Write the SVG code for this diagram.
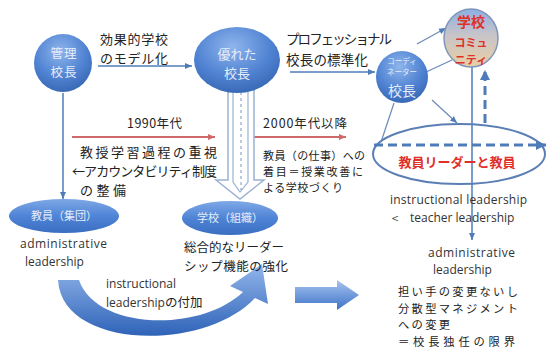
<svg xmlns="http://www.w3.org/2000/svg" width="548" height="350" viewBox="0 0 548 350">
<style>
.jp{font-family:"Noto Sans CJK JP","Noto Sans",sans-serif;fill:#222;}
.en{font-family:"Open Sans","Noto Sans",sans-serif;fill:#333;}
.nt{font-family:"Noto Sans CJK JP",sans-serif;fill:#e6eefa;}
.red{font-family:"Noto Sans CJK JP",sans-serif;fill:#e0302a;font-weight:bold;}
.ln{stroke:#4f7cb8;stroke-width:1.5;fill:none;}
.rl{stroke:#d06a6a;stroke-width:1.8;fill:none;}
.thin{stroke:#6a88b8;stroke-width:1.2;fill:none;}
.dash{stroke:#4f7cb8;stroke-width:3;stroke-dasharray:9 5;fill:none;}
</style>
<defs>
<radialGradient id="sph" cx="0.45" cy="0.3" r="0.75">
<stop offset="0" stop-color="#8fb5ec"/>
<stop offset="0.6" stop-color="#4f82d2"/>
<stop offset="1" stop-color="#3565b0"/>
</radialGradient>
<linearGradient id="ell" x1="0" y1="0" x2="0" y2="1">
<stop offset="0" stop-color="#7fa8e6"/>
<stop offset="0.5" stop-color="#4f84d6"/>
<stop offset="1" stop-color="#3a6ec0"/>
</linearGradient>
<linearGradient id="com" x1="0" y1="0" x2="0" y2="1">
<stop offset="0" stop-color="#8cb0e4"/>
<stop offset="0.45" stop-color="#c8c4c8"/>
<stop offset="1" stop-color="#e8cfa4"/>
</linearGradient>
<linearGradient id="blk" x1="0" y1="0" x2="0" y2="1">
<stop offset="0" stop-color="#a6c4ee"/>
<stop offset="1" stop-color="#3d72c8"/>
</linearGradient>
<linearGradient id="crv" x1="0" y1="0" x2="0" y2="1">
<stop offset="0" stop-color="#92b6ea"/>
<stop offset="1" stop-color="#2f63b8"/>
</linearGradient>
<marker id="ab" markerWidth="8" markerHeight="8" refX="7" refY="4" orient="auto" markerUnits="userSpaceOnUse">
<path d="M0,1 L7,4 L0,7 Z" fill="#4f7cb8"/>
</marker>
<marker id="ar" markerWidth="8" markerHeight="8" refX="7" refY="4" orient="auto" markerUnits="userSpaceOnUse">
<path d="M0,1 L7,4 L0,7 Z" fill="#d06a6a"/>
</marker>
<marker id="ad" markerWidth="12" markerHeight="12" refX="10" refY="6" orient="auto" markerUnits="userSpaceOnUse">
<path d="M0,1 L10,6 L0,11 Z" fill="#4f7cb8"/>
</marker>
</defs>

<g id="connectors">
<line class="ln" x1="98" y1="66" x2="192" y2="66" marker-end="url(#ab)"/>
<line class="ln" x1="290" y1="72" x2="375" y2="72" marker-end="url(#ab)"/>
<line class="ln" x1="63" y1="93" x2="63" y2="199" marker-end="url(#ab)"/>
<line class="rl" x1="72" y1="137" x2="215" y2="137" marker-end="url(#ar)"/>
<line class="rl" x1="253" y1="137" x2="346" y2="137" marker-end="url(#ar)"/>
<line class="thin" x1="417" y1="44" x2="446" y2="28" marker-end="url(#ab)"/>
<line class="thin" x1="426" y1="72" x2="452" y2="60"/>
<line class="thin" x1="432" y1="100" x2="457" y2="123" marker-end="url(#ab)"/>
<line class="thin" x1="394" y1="103" x2="381" y2="142"/>
<line class="ln" x1="472" y1="48" x2="472" y2="240" marker-end="url(#ab)"/>
<line class="dash" x1="485" y1="123" x2="485" y2="70" marker-end="url(#ad)"/>
<path d="M228,90 L228,180 L216,180 L240,199 L264,180 L254,180 L254,90" fill="#fff" stroke="#9bb2d4" stroke-width="1.5"/>
<path d="M233,90 L233,182 L240,192 L248,182 L248,90" fill="none" stroke="#9bb2d4" stroke-width="1.2"/>
<line x1="241" y1="92" x2="241" y2="190" stroke="#7a96c4" stroke-width="1" stroke-dasharray="3 3"/>
<path d="M58,280 C62,350 205,352 255,298 L268,304 L262,264 L230,286 L243,292 C200,333 96,330 79,280 Z" fill="url(#crv)"/>
<polygon points="295,287 337,287 337,280 359,295 337,310 337,303 295,303" fill="url(#blk)"/>
</g>

<g id="node-kanri">
<circle cx="63" cy="63" r="29" fill="url(#sph)"/>
<text class="nt" font-size="12.5" text-anchor="middle" letter-spacing="1"><tspan x="64" y="58">管理</tspan><tspan x="64" y="76.5">校長</tspan></text>
</g>

<g id="node-sugureta">
<ellipse cx="237" cy="60" rx="43" ry="33" fill="url(#sph)"/>
<text class="nt" font-size="13" text-anchor="middle"><tspan x="237" y="59">優れた</tspan><tspan x="237" y="78">校長</tspan></text>
</g>

<g id="node-coord">
<circle cx="402" cy="77" r="26" fill="url(#sph)"/>
<text class="nt" text-anchor="middle"><tspan x="402" y="64" font-size="7.5">コーディ</tspan><tspan x="402" y="75" font-size="7.5">ネーター</tspan><tspan x="402" y="96" font-size="14">校長</tspan></text>
</g>

<g id="node-community">
<ellipse cx="471" cy="38" rx="27" ry="29" fill="url(#com)" stroke="#7f96b8" stroke-width="1.5"/>
<text class="red" text-anchor="middle"><tspan x="471" y="27" font-size="14">学校</tspan><tspan x="471" y="47" font-size="11">コミュ</tspan><tspan x="471" y="63.5" font-size="11">ニティ</tspan></text>
</g>

<g id="node-kyoin-shudan">
<ellipse cx="64" cy="216" rx="55" ry="17" fill="url(#ell)"/>
<text class="nt" x="64" y="220" font-size="11" text-anchor="middle">教員（集団）</text>
</g>

<g id="node-gakko-soshiki">
<ellipse cx="230" cy="218" rx="48" ry="17" fill="url(#ell)"/>
<text class="nt" x="230" y="222" font-size="11" text-anchor="middle">学校（組織）</text>
</g>

<g id="node-leader">
<ellipse cx="459" cy="154" rx="86" ry="30" fill="none" stroke="#5b7fb5" stroke-width="2"/>
<line class="dash" x1="374" y1="145" x2="546" y2="145" marker-end="url(#ad)"/>
<text class="red" x="457" y="167" font-size="13" text-anchor="middle">教員リーダーと教員</text>
</g>

<g id="labels">
<text class="jp" font-size="13"><tspan x="100" y="44" textLength="68" lengthAdjust="spacing">効果的学校</tspan><tspan x="100" y="63" textLength="68" lengthAdjust="spacing">のモデル化</tspan></text>
<text class="jp" font-size="13.5"><tspan x="286" y="44" textLength="106" lengthAdjust="spacing">プロフェッショナル</tspan><tspan x="286" y="65" textLength="82" lengthAdjust="spacing">校長の標準化</tspan></text>
<text class="jp" x="127" y="128" font-size="12.5" textLength="55" lengthAdjust="spacing">1990年代</text>
<text class="jp" x="263" y="128" font-size="12.5" textLength="84" lengthAdjust="spacing">2000年代以降</text>
<text class="jp" font-size="13"><tspan x="80" y="157" textLength="137" lengthAdjust="spacing">教授学習過程の重視</tspan><tspan x="72" y="176" textLength="145" lengthAdjust="spacing">←アカウンタビリティ制度</tspan><tspan x="80" y="195" textLength="46" lengthAdjust="spacing">の整備</tspan></text>
<text class="jp" font-size="11"><tspan x="263" y="160" textLength="102" lengthAdjust="spacing">教員（の仕事）への</tspan><tspan x="263" y="176" textLength="100" lengthAdjust="spacing">着目＝授業改善に</tspan><tspan x="263" y="192" textLength="80" lengthAdjust="spacing">よる学校づくり</tspan></text>
<text class="en" font-size="12"><tspan x="20" y="248" textLength="87" lengthAdjust="spacing">administrative</tspan><tspan x="25" y="266">leadership</tspan></text>
<text class="jp" font-size="12.5"><tspan x="184" y="252" textLength="100" lengthAdjust="spacing">総合的なリーダー</tspan><tspan x="184" y="270.5" textLength="104" lengthAdjust="spacing">シップ機能の強化</tspan></text>
<text class="en" font-size="12"><tspan x="106" y="288">instructional</tspan><tspan x="106" y="307">leadership</tspan><tspan class="jp" font-size="12.5">の付加</tspan></text>
<text class="en" font-size="12"><tspan x="390" y="204" textLength="137" lengthAdjust="spacing">instructional leadership</tspan><tspan x="389" y="222">＜ </tspan><tspan x="410" y="222">teacher leadership</tspan></text>
<text class="en" font-size="12"><tspan x="428" y="257" textLength="87" lengthAdjust="spacing">administrative</tspan><tspan x="433" y="274">leadership</tspan></text>
<text class="jp" font-size="11.3"><tspan x="398" y="296" textLength="120" lengthAdjust="spacing">担い手の変更ないし</tspan><tspan x="398" y="312.5" textLength="120" lengthAdjust="spacing">分散型マネジメント</tspan><tspan x="398" y="329" textLength="52" lengthAdjust="spacing">への変更</tspan><tspan x="398" y="345.5" textLength="117" lengthAdjust="spacing">＝校長独任の限界</tspan></text>
</g>
</svg>
